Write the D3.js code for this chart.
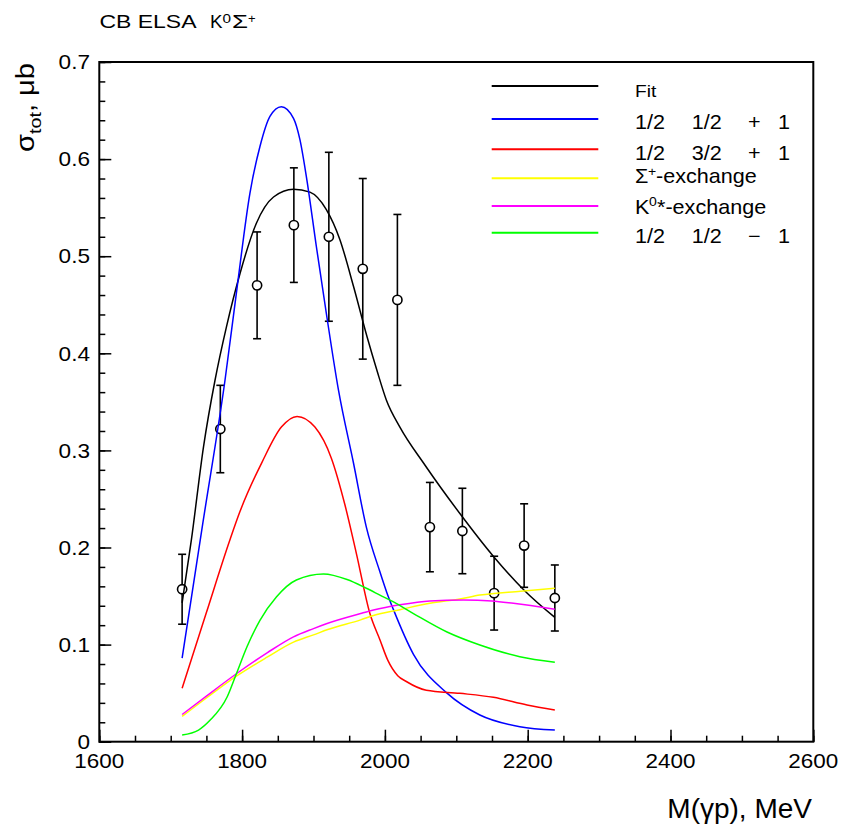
<!DOCTYPE html>
<html><head><meta charset="utf-8">
<script src="https://cdn.jsdelivr.net/npm/d3@7"></script>
<style>
body{margin:0;background:#fff}
svg{display:block}
text{font-family:"Liberation Sans",Arial,Helvetica,sans-serif;fill:#000;white-space:pre}
</style>
</head><body>
<svg id="c" width="859" height="829"></svg>
<script>
// ---------- data ----------
const pointMass   = [1716, 1769.5, 1821, 1872.5, 1921.5, 1969, 2017.5, 2063, 2108.5, 2153, 2195, 2238];
const pointSigma  = [0.157, 0.322, 0.470, 0.532, 0.520, 0.487, 0.455, 0.221, 0.217, 0.153, 0.202, 0.148];
const pointError  = [0.036, 0.045, 0.055, 0.059, 0.087, 0.093, 0.088, 0.046, 0.044, 0.038, 0.043, 0.034];

const fitMass = [1716,1729,1746,1762,1778,1797,1820,1844,1872,1895,1918,1937,1956,1975,1989,2002,2021,2056,2105,2153,2195,2238];
const fitVals = [0.143,0.208,0.304,0.372,0.427,0.482,0.534,0.561,0.569,0.566,0.548,0.517,0.469,0.417,0.382,0.352,0.324,0.285,0.235,0.190,0.156,0.128];

const blueMass = [1716,1745,1776,1792,1811,1825,1839,1855,1872,1881,1890,1904,1918,1935,1956,1974,1993,2003,2012,2040,2087,2133,2189,2238];
const blueVals = [0.086,0.225,0.372,0.462,0.565,0.613,0.644,0.654,0.642,0.620,0.582,0.510,0.441,0.362,0.287,0.221,0.175,0.153,0.136,0.090,0.050,0.0275,0.0154,0.012];

const redMass = [1716,1750,1783,1797,1828,1855,1877,1902,1925,1944,1960,1979,1993,2004,2018,2030,2058,2105,2152,2199,2238];
const redVals = [0.055,0.133,0.208,0.237,0.288,0.324,0.335,0.324,0.292,0.244,0.194,0.132,0.105,0.084,0.068,0.062,0.053,0.0498,0.0457,0.0378,0.0326];

const yellowMass = [1716,1750,1793,1835,1872,1900,1920,1966,1984,2021,2063,2105,2133,2190,2238];
const yellowVals = [0.026,0.045,0.068,0.087,0.1025,0.110,0.1155,0.1255,0.130,0.136,0.1425,0.147,0.151,0.155,0.158];

const magentaMass = [1716,1750,1793,1835,1872,1900,1918,1966,1984,2021,2063,2110,2150,2180,2238];
const magentaVals = [0.028,0.047,0.0705,0.0915,0.108,0.1165,0.1215,0.132,0.1356,0.141,0.145,0.146,0.145,0.1425,0.1363];

const greenMass = [1716,1739,1755,1779,1792,1807,1825,1848,1876,1914,1947,1974,1993,2012,2040,2087,2133,2189,2238];
const greenVals = [0.0069,0.012,0.022,0.046,0.070,0.098,0.125,0.149,0.1665,0.1727,0.167,0.158,0.151,0.144,0.132,0.113,0.0996,0.0875,0.0818];

const xTickValues = [1600, 1800, 2000, 2200, 2400, 2600];
const xTickLabels = ["1600", "1800", "2000", "2200", "2400", "2600"];
const yTickValues = [0, 0.1, 0.2, 0.3, 0.4, 0.5, 0.6, 0.7];
const yTickLabels = ["0", "0.1", "0.2", "0.3", "0.4", "0.5", "0.6", "0.7"];

const seriesNames  = ["Fit", "1/2 1/2 + 1", "1/2 3/2 + 1", "Σ+-exchange", "K0*-exchange", "1/2 1/2 − 1"];
const seriesColors = ["#000000", "#0000ff", "#ff0000", "#ffff00", "#ff00ff", "#00ff00"];

// ---------- scales ----------
const svg = d3.select("#c");
const x = d3.scaleLinear().domain([1600, 2600]).range([99.3, 813.3]);
const y = d3.scaleLinear().domain([0, 0.7]).range([741.7, 62]);

// ---------- axes ticks ----------
const xMinor = d3.range(1600, 2601, 50);
const yMinor = d3.range(0, 0.7001, 0.02);
function styleAxis(g) { g.select(".domain").remove(); g.selectAll("line").attr("stroke-width", 1.5); }
svg.append("g").attr("transform", `translate(0,${y(0)})`)
  .call(d3.axisBottom(x).tickValues(xMinor).tickSizeInner(-6).tickSizeOuter(0).tickFormat("")).call(styleAxis);
svg.append("g").attr("transform", `translate(0,${y(0)})`)
  .call(d3.axisBottom(x).tickValues(xTickValues).tickSizeInner(-12).tickSizeOuter(0).tickFormat("")).call(styleAxis);
svg.append("g").attr("transform", `translate(${x(1600)},0)`)
  .call(d3.axisLeft(y).tickValues(yMinor).tickSizeInner(-6).tickSizeOuter(0).tickFormat("")).call(styleAxis);
svg.append("g").attr("transform", `translate(${x(1600)},0)`)
  .call(d3.axisLeft(y).tickValues(yTickValues).tickSizeInner(-12).tickSizeOuter(0).tickFormat("")).call(styleAxis);

// frame
svg.append("rect").attr("x", x(1600)).attr("y", y(0.7))
  .attr("width", x(2600) - x(1600)).attr("height", y(0) - y(0.7))
  .attr("fill", "none").attr("stroke", "#000").attr("stroke-width", 2);

// tick labels
xTickValues.forEach((v, i) => {
  svg.append("text").attr("transform", `translate(${x(v)},768.3) scale(1.07,1)`)
    .attr("text-anchor", "middle").attr("font-size", 21).text(xTickLabels[i]);
});
yTickValues.forEach((v, i) => {
  svg.append("text").attr("transform", `translate(90,${y(v) + 7.2}) scale(1.13,1)`)
    .attr("text-anchor", "end").attr("font-size", 20).text(yTickLabels[i]);
});

// axis titles
svg.append("text").attr("x", 812).attr("y", 818.3).attr("text-anchor", "end")
  .attr("font-size", 28).text("M(γp), MeV");

const yt = svg.append("text").attr("transform", "translate(34,63) rotate(-90)")
  .attr("text-anchor", "end").attr("font-size", 25)
  .attr("textLength", 89).attr("lengthAdjust", "spacingAndGlyphs");
yt.append("tspan").text("σ");
yt.append("tspan").attr("font-size", 17).attr("dy", 7).text("tot");
yt.append("tspan").attr("dy", -7).text(", μb");

// title
svg.append("text").attr("x", 99.5).attr("y", 28).attr("font-size", 18.5)
  .attr("textLength", 97).attr("lengthAdjust", "spacingAndGlyphs").text("CB ELSA");
svg.append("text").attr("x", 210).attr("y", 28).attr("font-size", 18.5)
  .attr("textLength", 12.5).attr("lengthAdjust", "spacingAndGlyphs").text("K");
svg.append("text").attr("x", 222.5).attr("y", 23).attr("font-size", 12.5)
  .attr("textLength", 8.5).attr("lengthAdjust", "spacingAndGlyphs").text("0");
svg.append("text").attr("x", 232).attr("y", 28).attr("font-size", 18.5)
  .attr("textLength", 16).attr("lengthAdjust", "spacingAndGlyphs").text("Σ");
svg.append("text").attr("x", 248).attr("y", 22.5).attr("font-size", 13).text("+");

// ---------- data points ----------
const pts = svg.append("g").attr("stroke", "#000").attr("stroke-width", 1.6);
pointMass.forEach((m, i) => {
  const cx = x(m), v = pointSigma[i], e = pointError[i];
  pts.append("line").attr("x1", cx).attr("x2", cx).attr("y1", y(v - e)).attr("y2", y(v + e));
  pts.append("line").attr("x1", cx - 4).attr("x2", cx + 4).attr("y1", y(v - e)).attr("y2", y(v - e));
  pts.append("line").attr("x1", cx - 4).attr("x2", cx + 4).attr("y1", y(v + e)).attr("y2", y(v + e));
  pts.append("circle").attr("cx", cx).attr("cy", y(v)).attr("r", 4.6).attr("fill", "#fff");
});

// ---------- curves ----------
const line = d3.line().x(d => x(d[0])).y(d => y(d[1])).curve(d3.curveMonotoneX);
const curves = [
  [fitMass, fitVals], [blueMass, blueVals], [redMass, redVals],
  [yellowMass, yellowVals], [magentaMass, magentaVals], [greenMass, greenVals]
];
curves.forEach((c, i) => {
  svg.append("path").datum(d3.zip(c[0], c[1])).attr("d", line)
    .attr("fill", "none").attr("stroke", seriesColors[i]).attr("stroke-width", 1.5);
});

// ---------- legend ----------
const legY = [86, 119, 149.3, 178.3, 206, 232.7];
const legBase = [96.7, 129.3, 159.8, 183.3, 214.2, 243.3];
legY.forEach((ly, i) => {
  svg.append("line").attr("x1", 491.7).attr("x2", 598.3).attr("y1", ly).attr("y2", ly)
    .attr("stroke", seriesColors[i]).attr("stroke-width", 2);
});
function ltext(xp, yp, s, fs, sx) {
  return svg.append("text").attr("transform", `translate(${xp},${yp}) scale(${sx || 1.08},1)`)
    .attr("font-size", fs || 20).text(s);
}
ltext(635, legBase[0], "Fit", 16, 1.2);
[[1, seriesNames[1]], [2, seriesNames[2]], [5, seriesNames[5]]].forEach(([row, name]) => {
  const p = name.split(" ");
  ltext(635, legBase[row], p[0]);
  ltext(691.7, legBase[row], p[1]);
  ltext(748, legBase[row], p[2]);
  ltext(778, legBase[row], p[3]);
});
// Σ+-exchange
ltext(635, legBase[3], "Σ");
ltext(648, legBase[3] - 7, "+", 13);
ltext(656, legBase[3], "-exchange");
// K0*-exchange
ltext(635, legBase[4], "K");
ltext(649, legBase[4] - 8, "0", 13);
ltext(657, legBase[4], "*-exchange");
</script>
</body></html>
